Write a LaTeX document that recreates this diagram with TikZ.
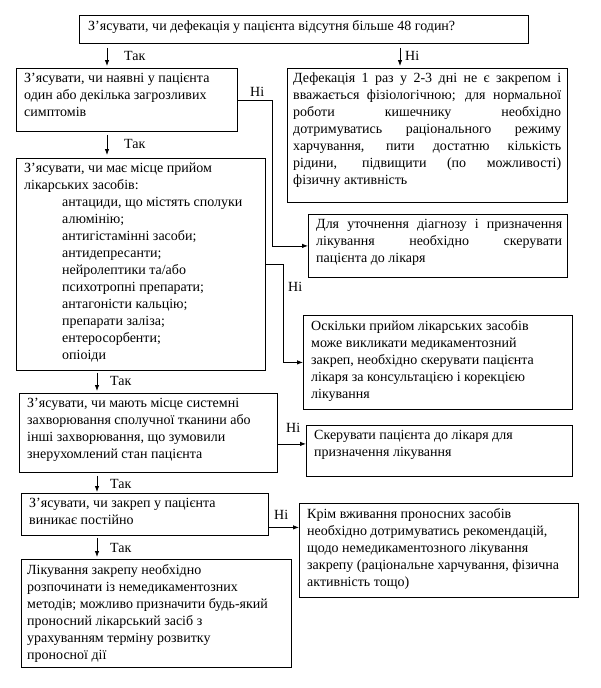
\documentclass[tikz,border=0pt]{standalone}
\usepackage{fontspec}
\setmainfont{Liberation Serif}
\usetikzlibrary{arrows.meta,calc}
\tikzset{
  box/.style={draw, line width=0.8pt, anchor=north west, inner sep=0pt},
  txt/.style={anchor=north west, inner sep=0pt, font=\fontsize{14}{17}\selectfont, align=left},
  arr/.style={line width=0.8pt, -{Latex[length=6pt,width=4.5pt]}},
  conn/.style={line width=0.8pt},
  lbl/.style={anchor=west, inner sep=0pt, font=\fontsize{14}{17}\selectfont}
}
\newcommand{\jl}[2]{\makebox[#1][s]{#2}}
\begin{document}
\begin{tikzpicture}[x=1pt,y=-1pt]
\useasboundingbox (0,0) rectangle (600,688);
% boxes
\node[box, minimum width=449pt, minimum height=28pt] (b1) at (79,15) {};
\node[box, minimum width=221pt, minimum height=63pt] (b2) at (16,68) {};
\node[box, minimum width=280pt, minimum height=134pt] (r1) at (287,68) {};
\node[box, minimum width=249pt, minimum height=212pt] (b3) at (16,158) {};
\node[box, minimum width=259pt, minimum height=63pt] (r2) at (308,214) {};
\node[box, minimum width=269pt, minimum height=94pt] (r3) at (303,315) {};
\node[box, minimum width=258pt, minimum height=79pt] (b4) at (19,393) {};
\node[box, minimum width=266pt, minimum height=51pt] (r4) at (306,425) {};
\node[box, minimum width=247pt, minimum height=42pt] (b5) at (21,493) {};
\node[box, minimum width=279pt, minimum height=94pt] (r5) at (299,503) {};
\node[box, minimum width=270pt, minimum height=108pt] (b6) at (21,559) {};
% texts
\node[txt] (b1t) at ($(b1.north west)+(9,5)$) {З’ясувати, чи дефекація у пацієнта відсутня більше 48 годин?};
\node[txt] (b2t) at ($(b2.north west)+(8,5)$) {З’ясувати, чи наявні у пацієнта\\один або декілька загрозливих\\симптомів};
\node[txt] (r1t) at ($(r1.north west)+(6,5)$) {\jl{268pt}{Дефекація 1 раз у 2-3 дні не є закрепом і}\\\jl{268pt}{вважається фізіологічною; для нормальної}\\\jl{268pt}{роботи кишечнику необхідно}\\\jl{268pt}{дотримуватись раціонального режиму}\\\jl{268pt}{харчування, пити достатню кількість}\\\jl{268pt}{рідини, підвищити (по можливості)}\\фізичну активність};
\node[txt] (b3t) at ($(b3.north west)+(8,5)$) {З’ясувати, чи має місце прийом\\лікарських засобів:\\\hspace*{38pt}антациди, що містять сполуки\\\hspace*{38pt}алюмінію;\\\hspace*{38pt}антигістамінні засоби;\\\hspace*{38pt}антидепресанти;\\\hspace*{38pt}нейролептики та/або\\\hspace*{38pt}психотропні препарати;\\\hspace*{38pt}антагоністи кальцію;\\\hspace*{38pt}препарати заліза;\\\hspace*{38pt}ентеросорбенти;\\\hspace*{38pt}опіоіди};
\node[txt] (r2t) at ($(r2.north west)+(8,5)$) {\jl{246pt}{Для уточнення діагнозу і призначення}\\\jl{246pt}{лікування необхідно скерувати}\\пацієнта до лікаря};
\node[txt] (r3t) at ($(r3.north west)+(8,5)$) {Оскільки прийом лікарських засобів\\може викликати медикаментозний\\закреп, необхідно скерувати пацієнта\\лікаря за консультацією і корекцією\\лікування};
\node[txt] (b4t) at ($(b4.north west)+(8,5)$) {З’ясувати, чи мають місце системні\\захворювання сполучної тканини або\\інші захворювання, що зумовили\\знерухомлений стан пацієнта};
\node[txt] (r4t) at ($(r4.north west)+(8,5)$) {Скерувати пацієнта до лікаря для\\призначення лікування};
\node[txt] (b5t) at ($(b5.north west)+(8,5)$) {З’ясувати, чи закреп у пацієнта\\виникає постійно};
\node[txt] (r5t) at ($(r5.north west)+(8,5)$) {Крім вживання проносних засобів\\необхідно дотримуватись рекомендацій,\\щодо немедикаментозного лікування\\закрепу (раціональне харчування, фізична\\активність тощо)};
\node[txt] (b6t) at ($(b6.north west)+(6,5)$) {Лікування закрепу необхідно\\розпочинати із немедикаментозних\\методів; можливо призначити будь-який\\проносний лікарський засіб з\\урахуванням терміну розвитку\\проносної дії};
% Так / Ні vertical arrows
\draw[arr] ($(b1.south west)+(28,4)$) -- ($(b2.north west)+(91,-2)$);
\draw[arr] ($(b1.south west)+(321,4)$) -- ($(r1.north west)+(113,-2)$);
\draw[arr] ($(b2.south west)+(91,3)$) -- ($(b3.north west)+(91,-3)$);
\draw[arr] ($(b3.south west)+(81,2)$) -- ($(b4.north west)+(78,-2)$);
\draw[arr] ($(b4.south west)+(78,3)$) -- ($(b5.north west)+(76,-1)$);
\draw[arr] ($(b5.south west)+(76,2)$) -- ($(b6.north west)+(76,-2)$);
% side connectors
\draw[arr] (b2.east) -- ++(35,0) |- (r2.west);
\draw[arr] (b3.east) -- ++(18,0) |- (r3.west);
\draw[arr] ([yshift=-11pt]b4.east) -- ([yshift=-11pt]b4.east -| r4.west);
\draw[arr] ([yshift=-13pt]b5.east) -- ([yshift=-13pt]b5.east -| r5.west);
% labels
\node[lbl] (l1) at (124,56) {Так};
\node[lbl] (l2) at (405,56) {Ні};
\node[lbl] (l3) at (124,144) {Так};
\node[lbl] (l4) at (250,92) {Ні};
\node[lbl] (l5) at (288,287) {Ні};
\node[lbl] (l6) at (110,381) {Так};
\node[lbl] (l7) at (286,428) {Ні};
\node[lbl] (l8) at (110,484) {Так};
\node[lbl] (l9) at (274,515) {Ні};
\node[lbl] (l10) at (110,548) {Так};
\end{tikzpicture}
\end{document}
